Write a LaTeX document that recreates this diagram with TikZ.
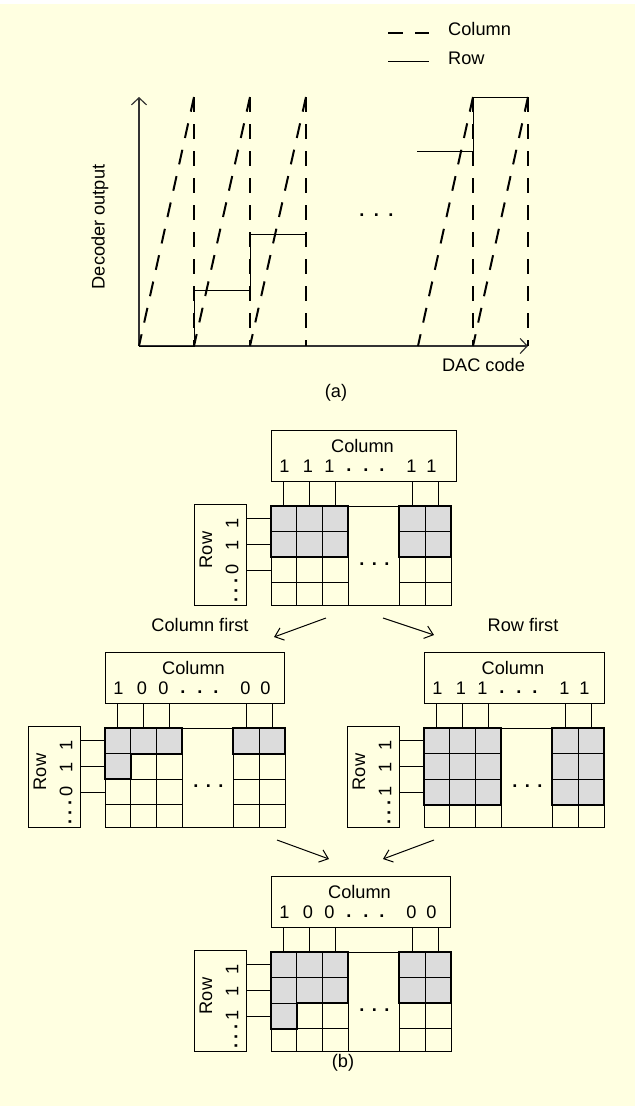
\documentclass[tikz,border=0pt]{standalone}
\usepackage{fontspec}
\setmainfont{Liberation Sans}
\usetikzlibrary{arrows.meta}
\definecolor{bg}{RGB}{255,255,225}
\definecolor{cellgray}{RGB}{220,220,220}
\tikzset{
 gridline/.style={line width=1bp, draw=black},
 shadeline/.style={line width=2bp, draw=black, line join=miter},
 box/.style={draw, line width=1bp, inner sep=0pt},
 colline/.style={line width=2bp, dash pattern=on 15bp off 12bp},
 rowline/.style={line width=1bp},
 axisline/.style={line width=1.2bp, draw=black!80},
 flowarrow/.style={line width=1bp, -{Straight Barb[length=8bp,width=13bp]}},
 dotc/.style={inner sep=0pt, font=\fontsize{18.2bp}{20bp}\selectfont\bfseries},
}
\newcommand\gridblock[7]{%
\begin{scope}[shift={(#2,#3)}]
 \fill[cellgray] #7;
 \draw[gridline] (0,0) rectangle (180,99);
 \foreach \xx in {25.8,51.6,77.4,128.4,154.2} \draw[gridline] (\xx,0) -- (\xx,99);
 \foreach \yy in {25.6,51.2,76.8} {\draw[gridline] (0,\yy) -- (77.4,\yy); \draw[gridline] (128.4,\yy) -- (180,\yy);}
 \draw[shadeline] #7;
 \node[box, minimum width=#4bp, minimum height=51bp, anchor=north west] (#1-col) at (0,-76) {};
 \node (#1-coltitle) at (#4/2-1,-60) {Column};
 \foreach \b [count=\i] in {#5} {%
   \pgfmathsetmacro\bx{{13.5,37,58.5,140.5,160.5}[\i-1]}%
   \node (#1-cb\i) at (\bx,-39.5) {\b};}
 \foreach \dx [count=\i] in {78,95,111} \node[dotc] (#1-cd\i) at (\dx,-36) {.};
 \foreach \cx [count=\i] in {12.9,38.7,64.5,141.3,167.1} {%
   \coordinate (#1-t\i) at (\cx,0);
   \draw[gridline] (#1-col.south -| #1-t\i) -- (#1-t\i);}
 \node[box, minimum width=52bp, minimum height=101bp, anchor=north west] (#1-row) at (-77,-2) {};
 \node[rotate=90] (#1-rowtitle) at (-65,44) {Row};
 \foreach \b [count=\i] in {#6} {%
   \pgfmathsetmacro\by{{17,39.5,63}[\i-1]}%
   \node[rotate=90] (#1-rb\i) at (-39,\by) {\b};}
 \foreach \dy [count=\i] in {75,84.5,94} \node[dotc,rotate=90] (#1-rd\i) at (-35,\dy) {.};
 \foreach \ry [count=\i] in {12.8,38.4,64} {%
   \coordinate (#1-l\i) at (0,\ry);
   \draw[gridline] (#1-row.east |- #1-l\i) -- (#1-l\i);}
 \foreach \dx [count=\i] in {91,103.5,116} \node[dotc] (#1-gd\i) at (\dx,58) {.};
\end{scope}}

\begin{document}
\begin{tikzpicture}[x=1bp,y=-1bp, every node/.style={inner sep=0pt}, font=\fontsize{18.2bp}{21bp}\selectfont]
\useasboundingbox (0,0) rectangle (635,1106);
\fill[bg] (0,4) rectangle (635,1106);

% ---------- (a) ----------
\draw[colline] (388,33) -- (429,33);
\node[anchor=west] (legcol) at (448,29) {Column};
\draw[rowline] (388,61) -- (429,61);
\node[anchor=west] (legrow) at (448,58.5) {Row};

\coordinate (O) at (139,346);
\coordinate (ytip) at (139,97);
\coordinate (xtip) at (528,346);
\draw[axisline, -{Straight Barb[length=7bp,width=15bp]}] (O) -- (ytip);
\draw[axisline, -{Straight Barb[length=7bp,width=15bp]}] (O) -- (xtip);

\foreach \a/\b in {139/194, 194/250, 250/306, 418/473, 473/528} {
  \draw[colline] (\b,97) -- (\a,346);
  \draw[colline] (\b,97) -- (\b,346);
}
\draw[rowline] (139,346) -- (194,346) -- (194,290) -- (250,290) -- (250,234) -- (306,234);
\draw[rowline] (417,151) -- (473,151) -- (473,97) -- (528,97);

\foreach \dx [count=\i] in {362,376.5,391} \node[dotc] (adot\i) at (\dx,215) {.};

\node[rotate=90] (ylab) at (100,227) {Decoder output};
\node (xlab) at (483.5,365) {DAC code};
\node (capa) at (336,393) {(a)};

% ---------- (b) ----------
\gridblock{top}{271}{506}{185}{1,1,1,1,1}{1,1,0}{(0,0) rectangle (77.4,51.2) (128.4,0) rectangle (180,51.2)}
\gridblock{cf}{105}{728}{179}{1,0,0,0,0}{1,1,0}{(0,0) -- (77.4,0) -- (77.4,25.6) -- (25.8,25.6) -- (25.8,51.2) -- (0,51.2) -- cycle (128.4,0) rectangle (180,25.6)}
\gridblock{rf}{424}{728}{180}{1,1,1,1,1}{1,1,1}{(0,0) rectangle (77.4,76.8) (128.4,0) rectangle (180,76.8)}
\gridblock{bot}{271}{952}{179}{1,0,0,0,0}{1,1,1}{(0,0) -- (77.4,0) -- (77.4,51.2) -- (25.8,51.2) -- (25.8,76.8) -- (0,76.8) -- cycle (128.4,0) rectangle (180,51.2)}

\coordinate (a1s) at (326,618); \coordinate (a1e) at (274,637);
\coordinate (a2s) at (383,618); \coordinate (a2e) at (434,635);
\coordinate (a3s) at (277,840); \coordinate (a3e) at (329,859);
\coordinate (a4s) at (434,840); \coordinate (a4e) at (383,859);
\draw[flowarrow] (a1s) -- (a1e);
\draw[flowarrow] (a2s) -- (a2e);
\draw[flowarrow] (a3s) -- (a3e);
\draw[flowarrow] (a4s) -- (a4e);

\node (colfirst) at (200,625) {Column first};
\node (rowfirst) at (523,625) {Row first};
\node (capb) at (343,1063) {(b)};
\end{tikzpicture}
\end{document}
